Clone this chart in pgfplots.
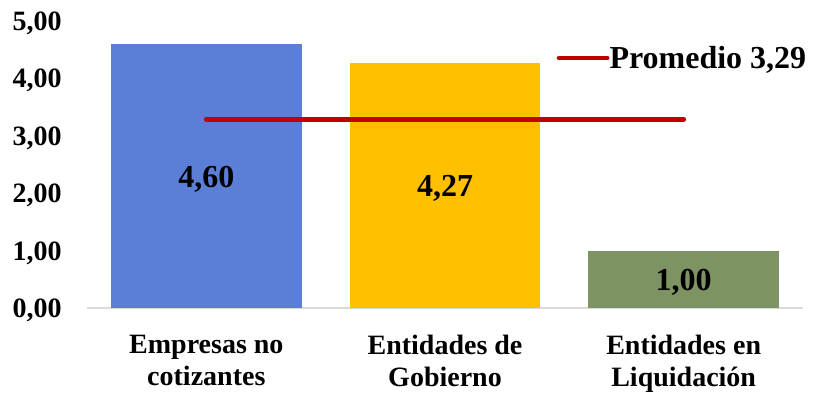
\documentclass[border=0pt]{standalone}
\usepackage{pgfplots}
\pgfplotsset{compat=1.18}
\usepackage{fontspec}
\setmainfont{Liberation Serif}

\definecolor{barBlue}{HTML}{5B7FD7}
\definecolor{barGold}{HTML}{FFC000}
\definecolor{barGreen}{HTML}{7E9364}
\definecolor{avgRed}{HTML}{C00000}
\definecolor{axisGray}{HTML}{D9D9D9}

\begin{document}
\begin{tikzpicture}
% page frame around the plot area
\useasboundingbox (-65.25pt,-63.75pt) rectangle (545.25pt,231pt);
\begin{axis}[
  at={(0pt,0pt)}, anchor=south west,
  scale only axis,
  width=537pt, height=215.25pt,
  xmin=-0.5, xmax=2.5,
  ymin=0, ymax=5,
  axis lines*=left,
  y axis line style={draw=none},
  x axis line style={draw=axisGray, line width=1.1pt},
  major tick length=0pt,
  ytick={0,1,2,3,4,5},
  xtick={0,1,2},
  xticklabels={{Empresas no\\cotizantes}, {Entidades de\\Gobierno}, {Entidades en\\Liquidación}},
  xticklabel style={font=\fontsize{21}{24}\selectfont\bfseries, align=center,
    inner sep=0pt, anchor=north, yshift=-20pt},
  yticklabel style={font=\fontsize{21}{24}\selectfont\bfseries, inner sep=0pt,
    anchor=east, xshift=-18.75pt, yshift=-1.8pt},
  /pgf/number format/assume math mode=true,
  yticklabel={\pgfmathprintnumber[fixed, fixed zerofill, precision=2, use comma]{\tick}},
  clip=false,
  legend style={at={(rel axis cs:0.656,0.871)}, anchor=west, draw=none, fill=none,
    inner sep=0pt, outer sep=0pt,
    font=\fontsize{24}{28}\selectfont\bfseries,
    nodes={inner sep=0pt},
    /tikz/every even column/.append style={column sep=3.75pt}},
  legend image code/.code={\draw[#1, line width=3.6pt, line cap=round] (0pt,0pt) -- (36pt,0pt);},
  bar data/.style={ybar, bar width=0.8, draw=none, fill=#1,
    point meta=y,
    visualization depends on={y \as \rawy},
    nodes near coords={\pgfmathprintnumber[fixed, fixed zerofill, precision=2, use comma]{\pgfplotspointmeta}},
    every node near coord/.append style={font=\fontsize{24}{28}\selectfont\bfseries,
      anchor=center, inner sep=0pt, yshift=-2.5pt,
      shift={(axis direction cs:0,-\rawy/2)}}},
]
\addplot[bar data=barBlue, forget plot] coordinates {(0,4.60)};
\addplot[bar data=barGold, forget plot] coordinates {(1,4.27)};
\addplot[bar data=barGreen, forget plot] coordinates {(2,1.00)};
% average across the three groups
\addplot[avgRed, line width=3.6pt, line cap=round, sharp plot, mark=none]
  coordinates {(0,3.29) (2,3.29)};
\addlegendentry{Promedio 3,29}
\end{axis}
\end{tikzpicture}
\end{document}
